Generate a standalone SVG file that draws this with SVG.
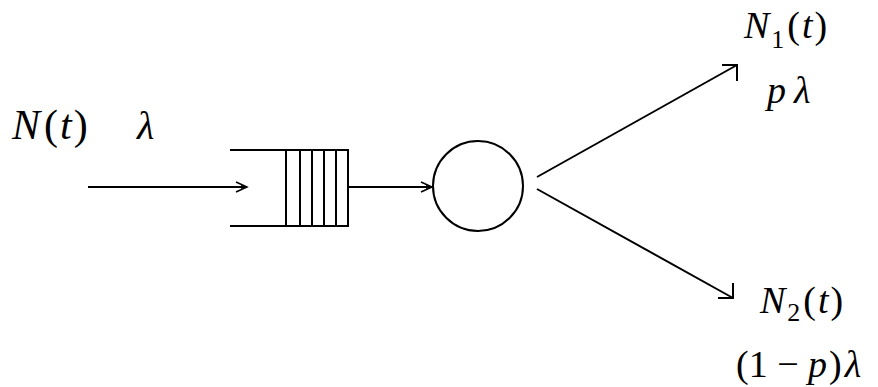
<svg xmlns="http://www.w3.org/2000/svg" width="878" height="387" viewBox="0 0 878 387">
<style>
.ln{stroke:#000;stroke-width:2;fill:none}
text{font-family:'Liberation Serif','DejaVu Serif',serif;fill:#000}
.i{font-style:italic}
</style>
<defs>
<marker id="ah" markerWidth="14" markerHeight="12" refX="12" refY="6" orient="auto" markerUnits="userSpaceOnUse">
<path d="M1,1 L12,6 L1,11" fill="none" stroke="#000" stroke-width="1.5"/>
<path d="M6,4 L12,6 L6,8 Z" fill="#000"/>
</marker>
</defs>
<rect width="878" height="387" fill="#fff"/>
<g id="queue">
<path class="ln" d="M230,150 H348 V226 H230 M286,150 V226 M300,150 V226 M312,150 V226 M324,150 V226 M336,150 V226"/>
</g>
<g id="server">
<circle class="ln" cx="478" cy="186" r="45"/>
</g>
<g id="connectors">
<line class="ln" x1="88" y1="187" x2="247" y2="187" marker-end="url(#ah)"/>
<line class="ln" x1="348" y1="187" x2="432" y2="187" marker-end="url(#ah)"/>
<line class="ln" x1="537" y1="177" x2="737" y2="65"/>
<polyline class="ln" points="722,65 737,65 737,81"/>
<line class="ln" x1="537" y1="189" x2="733" y2="298"/>
<polyline class="ln" points="733,283 733,298 718,298"/>
</g>
<g id="labels">
<text x="12" y="139" font-size="42"><tspan class="i">N</tspan><tspan dx="4">(</tspan><tspan class="i" dx="2">t</tspan><tspan dx="2">)</tspan></text>
<text class="i" x="137" y="139" font-size="40">λ</text>
<text x="744" y="38" font-size="38"><tspan class="i">N</tspan><tspan font-size="26" dy="10" dx="2">1</tspan><tspan dy="-10" dx="3">(</tspan><tspan class="i" dx="2">t</tspan><tspan dx="2">)</tspan></text>
<text class="i" x="767" y="103" font-size="38">p<tspan dx="8">λ</tspan></text>
<text x="760" y="313" font-size="38"><tspan class="i">N</tspan><tspan font-size="26" dy="8" dx="2">2</tspan><tspan dy="-8" dx="3">(</tspan><tspan class="i" dx="2">t</tspan><tspan dx="2">)</tspan></text>
<text x="736" y="377" font-size="38">(1 − <tspan class="i">p</tspan><tspan dx="2">)</tspan><tspan class="i" dx="3">λ</tspan></text>
</g>
</svg>
